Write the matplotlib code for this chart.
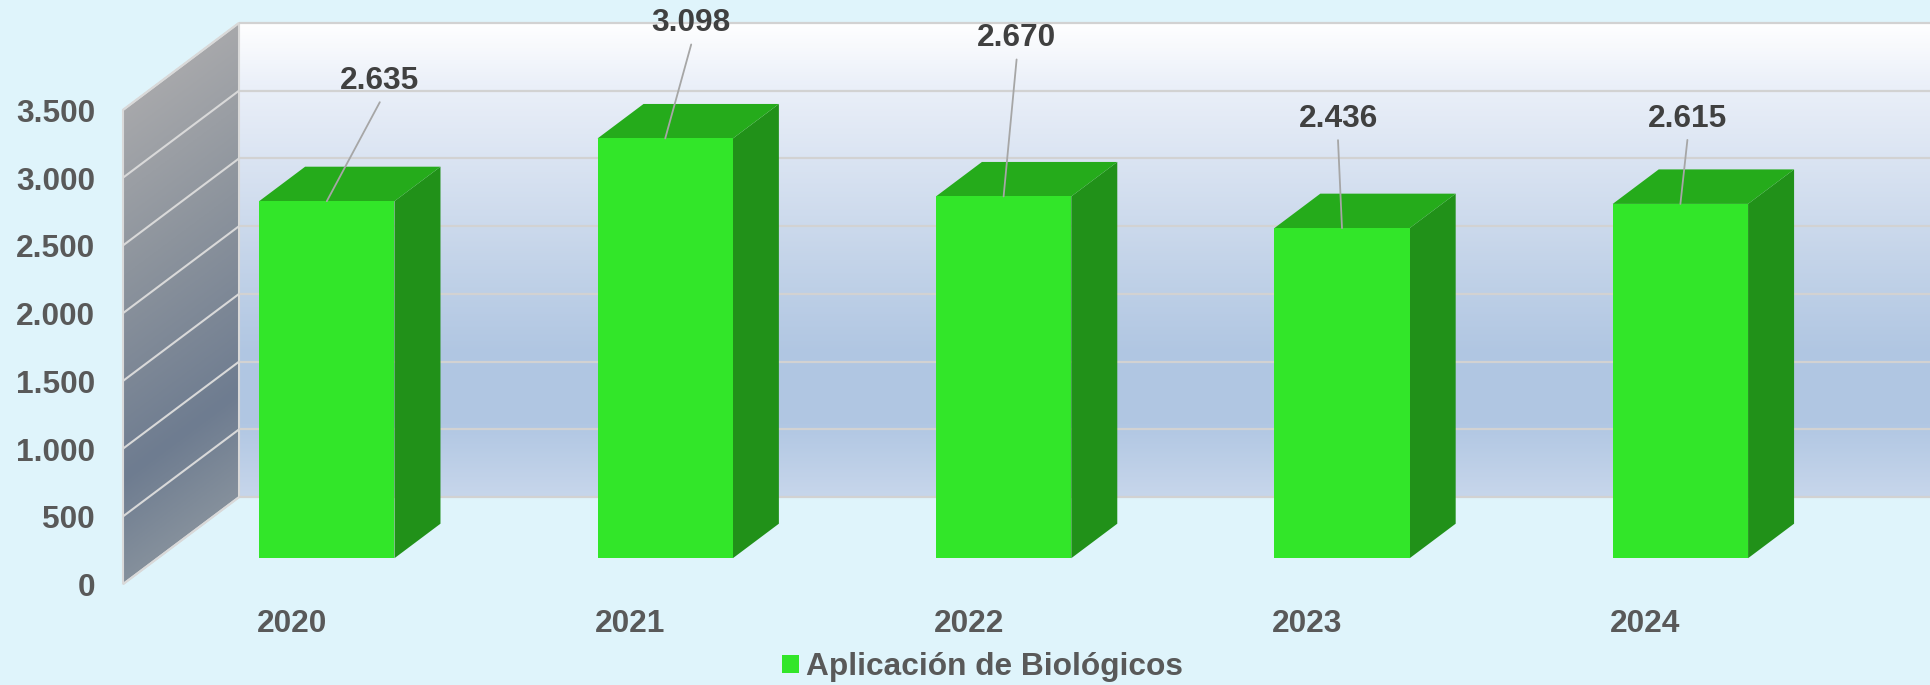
import numpy as np
import matplotlib
matplotlib.use("Agg")
import matplotlib.pyplot as plt
from matplotlib.colors import LinearSegmentedColormap
from matplotlib.patches import Patch, Polygon
from matplotlib.transforms import Affine2D

# ---- data ----
years = ["2020", "2021", "2022", "2023", "2024"]
values = [2635, 3098, 2670, 2436, 2615]
value_labels = ["2.635", "3.098", "2.670", "2.436", "2.615"]
y_ticks = [0, 500, 1000, 1500, 2000, 2500, 3000, 3500]
y_tick_labels = ["0", "500", "1.000", "1.500", "2.000", "2.500", "3.000", "3.500"]
series_name = "Aplicación de Biológicos"
# offset of each value label from the top-centre of its bar, in pixels
label_offsets = [(53, 120), (26, 115), (13, 158), (-4, 109), (7, 85)]
LEADER_GAP = 21  # pixels between the label centre and the start of its leader

# ---- style ----
W, H = 1931, 685
BG = "#DFF4FB"
FRONT, SIDE, TOP = "#32E629", "#219119", "#25AB1B"
GRID = "#D2D2D2"
TXT, LBL = "#595959", "#404040"
FS = 22.8
plt.rcParams["font.family"] = ["Liberation Sans", "DejaVu Sans"]
plt.rcParams["font.weight"] = "bold"

# pixel geometry of the plane through the bars' front faces
LEFT, RIGHT, BOTTOM, TOP_PX = 157.6, 1849.6, 558.2, 84.0
PX_X = (RIGHT - LEFT) / 5
PX_Y = (BOTTOM - TOP_PX) / 3500
DEPTH_X, DEPTH_Y = 46 / PX_X, 34.5 / PX_Y       # one bar depth, in data units
WALL_FRONT, WALL_BACK = -0.752, 1.77            # wall depth, in bar depths

fig = plt.figure(figsize=(W / 100, H / 100), dpi=100, facecolor=BG)
ax = fig.add_axes([LEFT / W, 1 - BOTTOM / H, (RIGHT - LEFT) / W, (BOTTOM - TOP_PX) / H])
ax.patch.set_visible(False)
for s in ax.spines.values():
    s.set_visible(False)
X0, X1, Y0, Y1 = -0.5, 4.5, 0, 3500


def proj(x, y, d):
    return (x + d * DEPTH_X, y + d * DEPTH_Y)


# back wall
back = [proj(X0, Y0, WALL_BACK), proj(X1, Y0, WALL_BACK), proj(X1, Y1, WALL_BACK), proj(X0, Y1, WALL_BACK)]
back_cmap = LinearSegmentedColormap.from_list("b", [
    (0, "#FFFFFF"), (0.13, "#EBF0F9"), (0.5, "#C4D4E9"), (0.70, "#B0C6E2"),
    (0.85, "#B1C7E3"), (1, "#C7D6EB")])
grad_v = np.linspace(0, 1, 256).reshape(-1, 1)
im = ax.imshow(grad_v, cmap=back_cmap, aspect="auto", interpolation="bilinear", zorder=1,
               extent=[back[0][0], back[1][0], back[0][1], back[2][1]], vmin=0, vmax=1)
im.set_clip_on(False)

# side wall
side = [proj(X0, Y0, WALL_FRONT), proj(X0, Y0, WALL_BACK), proj(X0, Y1, WALL_BACK), proj(X0, Y1, WALL_FRONT)]
side_cmap = LinearSegmentedColormap.from_list("s", [
    (0, "#A7A8AB"), (0.35, "#8D949D"), (0.78, "#6E7C90"), (1, "#85909C")])
uu, vv = np.meshgrid(np.linspace(0, 1, 200), np.linspace(0, 1, 400))
grad_s = np.clip((vv - (1 - uu) * 0.155) / 0.845, 0, 1)
side_poly = Polygon(side, closed=True, transform=ax.transData, facecolor="none", edgecolor="#D9D9D9",
                    lw=1.5, clip_on=False, zorder=2.5)
ax.add_patch(side_poly)
im2 = ax.imshow(grad_s, cmap=side_cmap, aspect="auto", interpolation="bilinear", zorder=2,
                extent=[side[0][0], side[1][0], side[0][1], side[2][1]], vmin=0, vmax=1)
im2.set_clip_path(side_poly)
im2.set_clip_box(fig.bbox)

# gridlines on both walls
for t in y_ticks:
    a, b, c = proj(X0, t, WALL_FRONT), proj(X0, t, WALL_BACK), proj(X1, t, WALL_BACK)
    ax.plot([a[0], b[0]], [a[1], b[1]], color="#D9D9D9", lw=1.5, clip_on=False, zorder=3, solid_capstyle="butt")
    ax.plot([b[0], c[0]], [b[1], c[1]], color=GRID, lw=1.6, clip_on=False, zorder=3, solid_capstyle="butt")
ax.plot([back[1][0]] * 2, [back[1][1], back[2][1]], color=GRID, lw=1.2, clip_on=False, zorder=3)

# bars
xs = np.arange(len(years))
bars = ax.bar(xs, values, width=0.4, color=FRONT, edgecolor="none", zorder=6)
for b in bars:
    l, r, h = b.get_x(), b.get_x() + b.get_width(), b.get_height()
    ax.add_patch(Polygon([proj(r, 0, 0), proj(r, 0, 1), proj(r, h, 1), proj(r, h, 0)],
                         closed=True, facecolor=SIDE, edgecolor="none", clip_on=False, zorder=5))
    ax.add_patch(Polygon([proj(l, h, 0), proj(r, h, 0), proj(r, h, 1), proj(l, h, 1)],
                         closed=True, facecolor=TOP, edgecolor="none", clip_on=False, zorder=5))

# value labels with leader lines
for x, v, s, (dx, dy) in zip(xs, values, value_labels, label_offsets):
    ax.annotate(s, xy=(x, v), xytext=(dx * 0.72, dy * 0.72), textcoords="offset points",
                ha="center", va="center", color=LBL, fontsize=FS, fontweight="bold", zorder=8,
                annotation_clip=False)
    ax.annotate("", xy=(x, v), xytext=(dx * 0.72, (dy - LEADER_GAP) * 0.72), textcoords="offset points",
                annotation_clip=False, zorder=8,
                arrowprops=dict(arrowstyle="-", color="#A6A6A6", lw=1.3, shrinkA=0, shrinkB=0))

ax.set_xlim(X0, X1)
ax.set_ylim(Y0, Y1)

# ticks: labels sit on the front edge of the floor
ax.set_yticks(y_ticks, y_tick_labels)
ax.set_xticks(xs, years)
ax.tick_params(axis="y", length=0, pad=(LEFT - 95) * 0.72, labelsize=FS, labelcolor=TXT)
ax.tick_params(axis="x", length=0, pad=51 * 0.72, labelsize=FS, labelcolor=TXT)
for lab in ax.get_yticklabels():
    lab.set_fontweight("bold")
    lab.set_transform(lab.get_transform() + Affine2D().translate(0, -26.5))
for lab in ax.get_xticklabels():
    lab.set_fontweight("bold")
    lab.set_transform(lab.get_transform() + Affine2D().translate(-35, 0))

fs_px = FS * 100 / 72
ax.legend(handles=[Patch(facecolor=FRONT, edgecolor="none", label=series_name)],
          loc="center", bbox_to_anchor=(982 / W, 1 - 667 / H), bbox_transform=fig.transFigure,
          frameon=False, labelcolor=TXT, borderpad=0, borderaxespad=0,
          handlelength=17 / fs_px, handleheight=16 / fs_px, handletextpad=7 / fs_px,
          prop={"weight": "bold", "size": FS})

fig.savefig("out.png", dpi=100, facecolor=BG)
